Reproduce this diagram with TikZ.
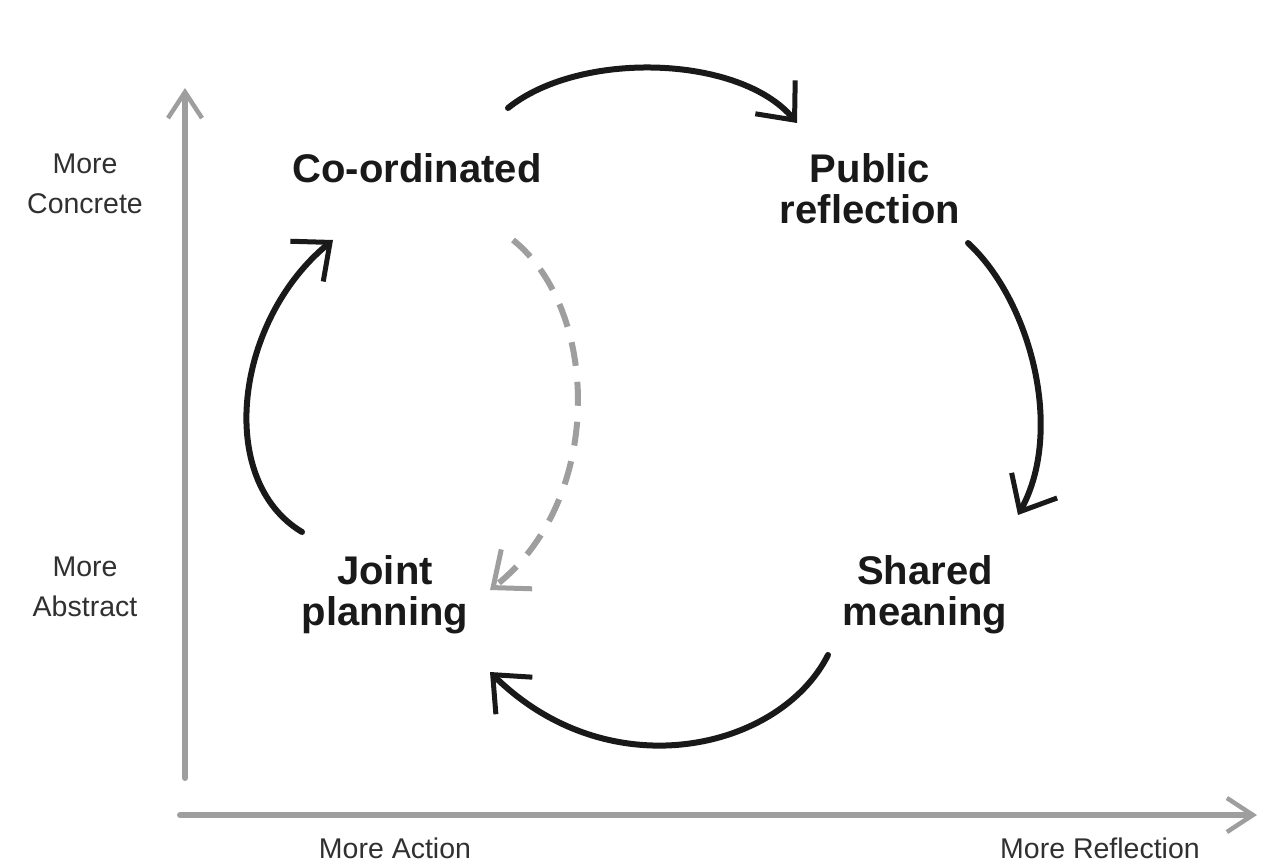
\documentclass[tikz,border=0pt]{standalone}
\usepackage{fontspec}
\setmainfont{Liberation Sans}
\usetikzlibrary{arrows.meta}
\definecolor{pencil}{RGB}{158,158,158}
\definecolor{ink}{RGB}{25,25,25}
\tikzset{
	stage/.style={font=\fontsize{40}{41}\selectfont\bfseries, align=center, text=ink, inner sep=0pt},
	axislabel/.style={font=\fontsize{28.5}{40}\selectfont, align=center, text=ink!90, inner sep=0pt},
	axisline/.style={pencil, line width=6pt, line cap=round, -{Straight Barb[length=26pt,width=34pt,line width=4.5pt]}},
	cycle/.style={ink, line width=6pt, line cap=round, -{Straight Barb[length=30pt,width=52pt,line width=5pt]}},
	shortcut/.style={pencil, line width=6pt, dash pattern=on 24pt off 16pt, -{Straight Barb[length=30pt,width=50pt,line width=5pt]}}
}
\begin{document}
\begin{tikzpicture}[x=1pt,y=-1pt]
	\useasboundingbox (0,0) rectangle (1285,865);

	\coordinate (vlow) at (185,778);
	\coordinate (vtop) at (185,88);
	\coordinate (hleft) at (180,815);
	\coordinate (hright) at (1257,815);
	\draw[axisline] (vlow) -- (vtop);
	\draw[axisline] (hleft) -- (hright);

	\node[axislabel] (concrete) at (85,184) {More\\Concrete};
	\node[axislabel] (abstract) at (85,587) {More\\Abstract};
	\node[axislabel,anchor=base] (action) at (395,858) {More Action};
	\node[axislabel,anchor=base] (reflect) at (1100,858) {More Reflection};

	\node[stage,anchor=base] (coord) at (417,182) {Co-ordinated};
	\node[stage] (public) at (870,189) {Public\\reflection};
	\node[stage] (shared) at (925,595) {Shared\\meaning};
	\node[stage] (joint) at (385,595) {Joint\\planning};

	\coordinate (c2p-a) at (508,108);
	\coordinate (c2p-b) at (797,123);
	\coordinate (p2s-a) at (968,243);
	\coordinate (p2s-b) at (1018,515);
	\coordinate (s2j-a) at (828,655);
	\coordinate (s2j-b) at (490,672);
	\coordinate (j2c-a) at (302,532);
	\coordinate (j2c-b) at (333,240);
	\coordinate (c2j-a) at (513,240);
	\coordinate (c2j-b) at (490,590);

	\draw[cycle] (c2p-a) .. controls (580,50) and (740,55) .. (c2p-b);
	\draw[cycle] (p2s-a) .. controls (1030,300) and (1065,430) .. (p2s-b);
	\draw[cycle] (s2j-a) .. controls (780,750) and (610,790) .. (s2j-b);
	\draw[cycle] (j2c-a) .. controls (215,480) and (235,320) .. (j2c-b);
	\draw[shortcut] (c2j-a) .. controls (600,310) and (605,500) .. (c2j-b);
\end{tikzpicture}
\end{document}
